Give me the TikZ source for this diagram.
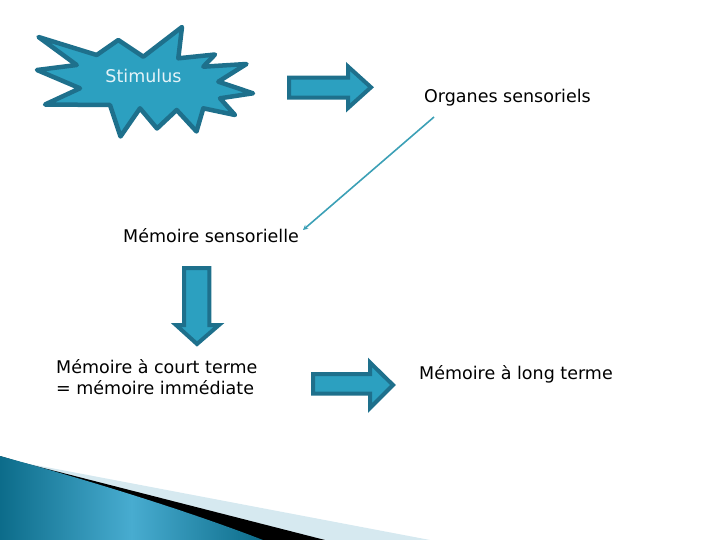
\documentclass[tikz,border=0pt]{standalone}
\usepackage{fontspec}
\setmainfont{DejaVu Sans}
\usetikzlibrary{arrows.meta}
\definecolor{tealfill}{RGB}{44,160,192}
\definecolor{tealedge}{RGB}{30,112,140}
\definecolor{linkcol}{RGB}{60,160,182}
\definecolor{stimtext}{RGB}{228,243,248}
\definecolor{swlight}{RGB}{214,233,240}
\definecolor{swdark}{RGB}{12,108,138}
\definecolor{swmid}{RGB}{72,172,208}
\begin{document}
\begin{tikzpicture}[x=1pt,y=-1pt,
  lbl/.style={font=\fontsize{17.5}{21}\selectfont, inner sep=0pt, anchor=base west, align=left},
  bigarrow/.style={fill=tealfill, draw=tealedge, line width=4pt, line join=miter}]
\useasboundingbox (0,0) rectangle (720,540);
% bottom swoosh
\fill[swlight] (30,464) -- (430,540) -- (0,540) -- (0,458) -- cycle;
\fill[black] (20,462) -- (325,540) -- (0,540) -- (0,456) -- cycle;
\shade[left color=swdark, right color=swdark, middle color=swmid]
  (0,456) .. controls (80,478) and (180,508) .. (263,540) -- (0,540) -- cycle;
% star
\draw[fill=tealfill, draw=tealedge, line width=4.5pt, line join=round]
  (38.5,37) -- (96.7,55) -- (118.3,40) -- (143.3,56.7) -- (182,27) -- (178.3,58.3)
  -- (215,54.5) -- (203.3,66.7) -- (246.5,64) -- (218.3,81.7) -- (253,93.3)
  -- (220,98.3) -- (235,115) -- (203.3,108.3) -- (196.5,131.5) -- (176.7,110)
  -- (157,128.5) -- (140,108.3) -- (120.5,136.5) -- (110,105) -- (45,104.5)
  -- (80,88.3) -- (37,70) -- (76.7,65) -- cycle;
\node[font=\fontsize{17.5}{21}\selectfont, text=stimtext, inner sep=0pt] (stim) at (143.5,76) {Stimulus};
% arrows
\draw[bigarrow] (289,77.7) -- (348,77.7) -- (348,66.5) -- (371,87.3) -- (348,108) -- (348,97.7) -- (289,97.7) -- cycle;
\draw[bigarrow] (184,268) -- (209.3,268) -- (209.3,325) -- (219,325) -- (197,344) -- (176,325) -- (184,325) -- cycle;
\draw[bigarrow] (313,374) -- (370,374) -- (370,362.5) -- (393,385) -- (370,408) -- (370,393.5) -- (313,393.5) -- cycle;
% labels
\node[lbl] (org) at (424,102.7) {Organes sensoriels};
\node[lbl] (msens) at (123,243) {Mémoire sensorielle};
\node[lbl] (mct) at (56,394.3) {Mémoire à court terme\\= mémoire immédiate};
\node[lbl] (mlt) at (419,379.5) {Mémoire à long terme};
% connector
\coordinate (cstart) at (434,117);
\coordinate (cend) at (303,230);
\draw[linkcol, line width=1.6pt, -{Stealth[length=5pt,width=5pt]}] (cstart) -- (cend);
\end{tikzpicture}
\end{document}
